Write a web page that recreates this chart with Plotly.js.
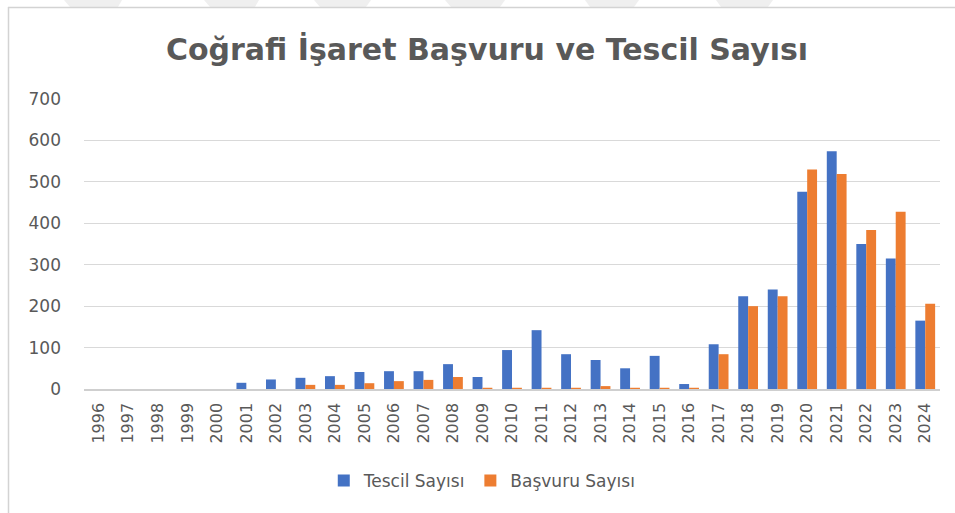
<!DOCTYPE html>
<html>
<head>
<meta charset="utf-8">
<script src="https://cdn.plot.ly/plotly-3.0.1.min.js"></script>
<style>
  html, body { margin: 0; padding: 0; background: #ffffff; }
  #wrap { position: relative; width: 955px; height: 513px; overflow: hidden; }
  #deco { position: absolute; left: 0; top: 0; }
  #chart { position: absolute; left: 0; top: 0; width: 955px; height: 513px; }
</style>
</head>
<body>
<div id="wrap">
  <svg id="deco" width="955" height="513">
    <g fill="#efefef">
      <polygon points="64,0 122,0 118,7 70,7"/>
      <polygon points="204,0 259,0 255,7 210,7"/>
      <polygon points="314,0 371,0 366,7 320,7"/>
      <polygon points="445,0 505,0 500,7 451,7"/>
      <polygon points="585,0 639,0 634,7 590,7"/>
      <polygon points="716,0 773,0 768,7 721,7"/>
    </g>
    <line x1="8" y1="7.5" x2="955" y2="7.5" stroke="#d3d3d3" stroke-width="1.5"/>
    <line x1="8.5" y1="7" x2="8.5" y2="513" stroke="#d3d3d3" stroke-width="1.5"/>
  </svg>
  <div id="chart"></div>
</div>
<script>
const years = ["1996","1997","1998","1999","2000","2001","2002","2003","2004","2005",
               "2006","2007","2008","2009","2010","2011","2012","2013","2014","2015",
               "2016","2017","2018","2019","2020","2021","2022","2023","2024"];
const tescilSayisi = [0,0,0,0,0,15,23,27,31,41,
                      43,43,60,29,94,142,84,70,50,80,
                      12,108,224,240,476,574,350,315,165];
const basvuruSayisi = [0,0,0,0,0,0,0,10,10,14,
                       19,22,29,3,3,3,3,7,3,3,
                       3,84,200,224,530,519,384,428,206];
const seriesNames = ["Tescil Sayısı", "Başvuru Sayısı"];
const chartTitle = "Coğrafi İşaret Başvuru ve Tescil Sayısı";

const fontFam = "'DejaVu Sans', 'Open Sans', sans-serif";
const grey = "#595959";

const traces = [
  { type: "bar", name: seriesNames[0], x: years, y: tescilSayisi,
    marker: { color: "#4472C4" }, hoverinfo: "x+y+name" },
  { type: "bar", name: seriesNames[1], x: years, y: basvuruSayisi,
    marker: { color: "#ED7D31" }, hoverinfo: "x+y+name" }
];

const layout = {
  width: 955, height: 513,
  paper_bgcolor: "rgba(0,0,0,0)", plot_bgcolor: "rgba(0,0,0,0)",
  margin: { l: 84, r: 15, t: 99, b: 124 },
  barmode: "group", bargap: 0.33, bargroupgap: 0,
  title: {
    text: "<b>" + chartTitle + "</b>",
    font: { family: fontFam, size: 30, color: grey },
    x: 0.51, xref: "container", xanchor: "center",
    y: 1 - 49/513, yref: "container", yanchor: "middle"
  },
  xaxis: {
    type: "category", tickangle: -90,
    tickfont: { family: fontFam, size: 16, color: grey },
    showgrid: false, showline: true, linecolor: "#cfcfcf", linewidth: 1.5,
    ticks: "", ticklabelstandoff: 6
  },
  yaxis: {
    range: [0, 700], dtick: 100, tick0: 0,
    tickfont: { family: fontFam, size: 17, color: grey },
    showgrid: true, gridcolor: "#d9d9d9", gridwidth: 1,
    zeroline: false, showline: false, ticks: "",
    ticklabelstandoff: 22
  },
  legend: {
    orientation: "h", x: 0.505, xref: "container", xanchor: "center",
    y: 1 - 481/513, yref: "container", yanchor: "middle",
    font: { family: fontFam, size: 17, color: grey },
    itemwidth: 30, traceorder: "normal"
  },
  showlegend: true
};

Plotly.newPlot("chart", traces, layout, { displayModeBar: false, staticPlot: true });
</script>
</body>
</html>
